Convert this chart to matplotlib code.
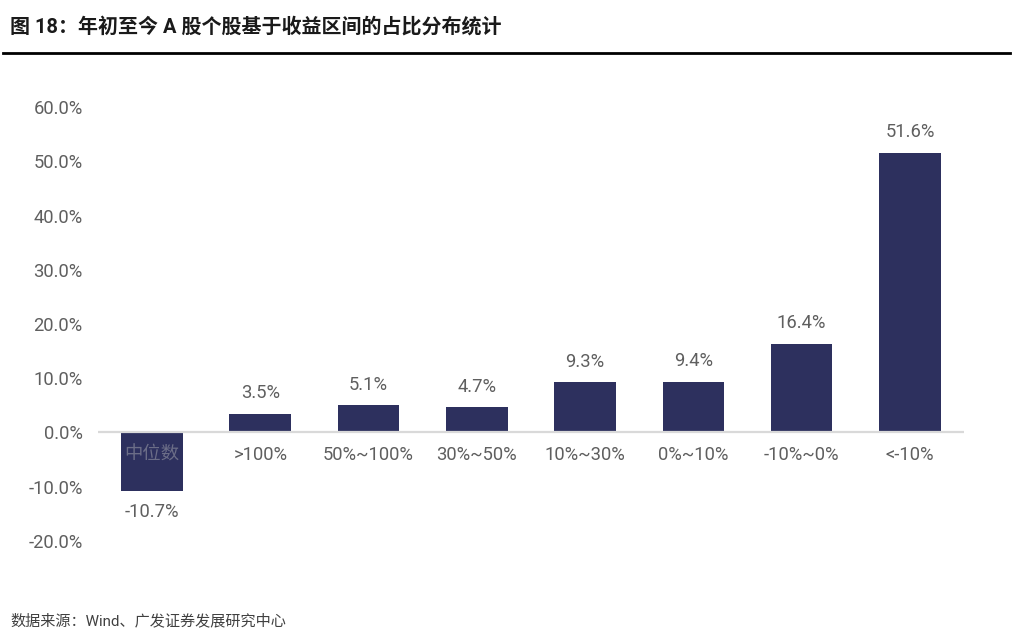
import matplotlib
matplotlib.use("Agg")
import matplotlib.pyplot as plt
from matplotlib.ticker import FuncFormatter

plt.rcParams['font.family'] = ['Roboto', 'Noto Sans CJK SC', 'DejaVu Sans']

categories = ["中位数", ">100%", "50%~100%", "30%~50%", "10%~30%", "0%~10%", "-10%~0%", "<-10%"]
values = [-10.7, 3.5, 5.1, 4.7, 9.3, 9.4, 16.4, 51.6]
yticks = [-20, -10, 0, 10, 20, 30, 40, 50, 60]

title = "图 18：年初至今 A 股个股基于收益区间的占比分布统计"
source = "数据来源：Wind、广发证券发展研究中心"

bar_color = "#2d305e"
text_gray = "#5f5f5f"
fs = 13.2

fig = plt.figure(figsize=(10.14, 6.4), dpi=100)
ax = fig.add_axes([0.0966, 0.1547, 0.8541, 0.6781])

x = list(range(len(categories)))
ax.bar(x, values, width=0.57, color=bar_color, zorder=2)
ax.set_xlim(-0.5, len(categories) - 0.5)
ax.set_ylim(-20, 60)
ax.set_yticks(yticks)
ax.yaxis.set_major_formatter(FuncFormatter(lambda v, p: f"{v:.1f}%"))
ax.tick_params(axis='y', length=0, labelsize=fs, labelcolor=text_gray, pad=11)
ax.set_xticks([])
for s in ax.spines.values():
    s.set_visible(False)
ax.axhline(0, color="#d9d9d9", lw=1.6, zorder=3)

for xi, v, c in zip(x, values, categories):
    if v >= 0:
        ax.annotate(f"{v:.1f}%", (xi, v), xytext=(0, 8), textcoords="offset points",
                    ha="center", va="bottom", fontsize=fs, color=text_gray)
    else:
        ax.annotate(f"{v:.1f}%", (xi, v), xytext=(0, -9), textcoords="offset points",
                    ha="center", va="top", fontsize=fs, color=text_gray)
    ax.annotate(c, (xi, 0), xytext=(0, -9.5), textcoords="offset points",
                ha="center", va="top", fontsize=fs, color=text_gray if v >= 0 else "#6b6d87",
                zorder=4)

fig.text(10 / 1014, 1 - 27 / 640, title, fontsize=14.4, fontweight="bold",
         ha="left", va="center", color="#1a1a1a")
fig.add_artist(plt.Line2D([3 / 1014, 1010 / 1014], [1 - 53 / 640, 1 - 53 / 640],
                          color="black", lw=2))
fig.text(10 / 1014, 1 - 621 / 640, source, fontsize=10.9, ha="left", va="center",
         color="#404040")

fig.savefig("out.png", dpi=100)
